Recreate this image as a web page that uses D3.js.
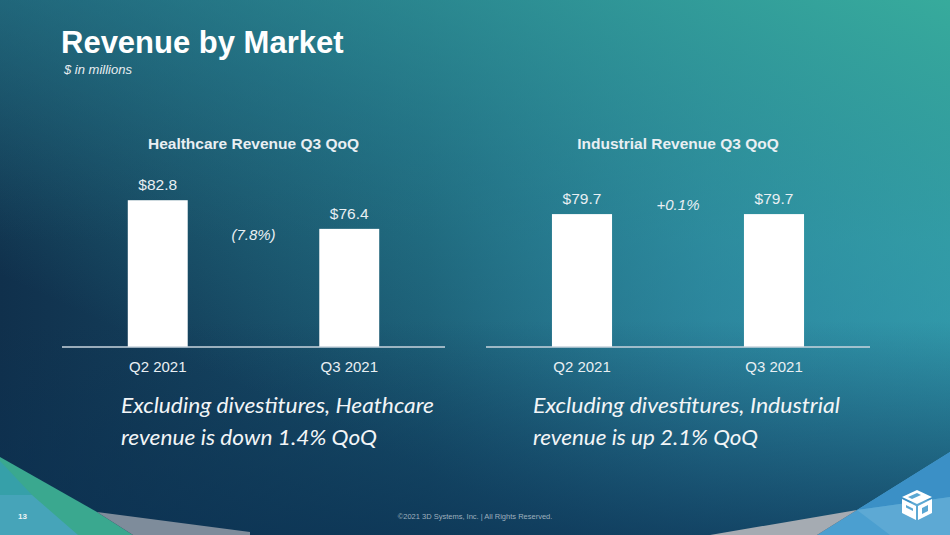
<!DOCTYPE html>
<html>
<head>
<meta charset="utf-8">
<script src="https://cdn.jsdelivr.net/npm/d3@7/dist/d3.min.js"></script>
<style>
  html, body { margin: 0; padding: 0; background: #123a5a; }
  svg { display: block; }
</style>
</head>
<body>
<svg id="chart" width="950" height="535"></svg>
<script>
// ---------- DATA ----------
const categories = ["Q2 2021", "Q3 2021"];
const healthcareValues = [82.8, 76.4];
const industrialValues = [79.7, 79.7];
const valueLabels = [["$82.8", "$76.4"], ["$79.7", "$79.7"]];
const changeLabels = ["(7.8%)", "+0.1%"];
const chartTitles = ["Healthcare Revenue Q3 QoQ", "Industrial Revenue Q3 QoQ"];
const noteLines = [
  ["Excluding divestitures, Heathcare", "revenue is down 1.4% QoQ"],
  ["Excluding divestitures, Industrial", "revenue is up 2.1% QoQ"]
];
const pageTitle = "Revenue by Market";
const pageSubtitle = "$ in millions";
const footerText = "©2021 3D Systems, Inc. | All Rights Reserved.";
const pageNumber = "13";

// ---------- LAYOUT ----------
const W = 950, H = 535;
const svg = d3.select("#chart");
const defs = svg.append("defs");

function lin(id, x1, y1, x2, y2, stops) {
  const g = defs.append("linearGradient").attr("id", id)
    .attr("x1", x1).attr("y1", y1).attr("x2", x2).attr("y2", y2);
  stops.forEach(s => g.append("stop").attr("offset", s[0]).attr("stop-color", s[1]).attr("stop-opacity", s[2] == null ? 1 : s[2]));
}
lin("bgH", 0, 0.5, 1, 0.5, [[0, "#10304c"], [0.45, "#19536f"], [0.75, "#2a7a9c"], [1, "#3292b4"]]);
lin("bgTeal", 1, 0, 0.35, 0.8, [[0, "#37ab9c", 1], [0.55, "#2f9aa0", 0.45], [1, "#2f9aa0", 0]]);
lin("bgTop", 0, 0, 0, 1, [[0, "#1d5674", 0.55], [0.45, "#1d5674", 0]]);
lin("bgBottom", 0, 0.6, 0, 1, [[0, "#0b3152", 0], [1, "#0b3152", 0.75]]);

svg.append("rect").attr("width", W).attr("height", H).attr("fill", "url(#bgH)");
svg.append("rect").attr("width", W).attr("height", H).attr("fill", "url(#bgTop)");
svg.append("rect").attr("width", W).attr("height", H).attr("fill", "url(#bgTeal)");
svg.append("rect").attr("width", W).attr("height", H).attr("fill", "url(#bgBottom)");

// decorative corner shapes
const deco = [
  { pts: [[0,457],[97,512],[133,535],[0,535]], fill: "#3aa88f" },
  { pts: [[0,461],[32,495],[0,495]], fill: "#36a0a9" },
  { pts: [[0,495],[32,495],[78,535],[0,535]], fill: "#46a4b9" },
  { pts: [[97,512],[250,532],[250,535],[133,535]], fill: "#7e8c9b" },
  { pts: [[950,452],[857,510],[817,535],[950,535]], fill: "#4b9fd0" },
  { pts: [[950,452],[857,510],[950,497]], fill: "#3b90c6" },
  { pts: [[857,510],[710,535],[817,535]], fill: "#a5abb2" },
  { pts: [[857,510],[950,497],[950,535],[890,535]], fill: "#5da9d4" }
];
svg.append("g").selectAll("path").data(deco).join("path")
  .attr("d", d => "M" + d.pts.map(p => p.join(",")).join("L") + "Z")
  .attr("fill", d => d.fill);

// logo (simplified cube mark)
const logo = svg.append("g").attr("transform", "translate(917,504)");
logo.append("path").attr("d", "M0,-14 L15,-7 L0,0 L-15,-7 Z").attr("fill", "#ffffff");
logo.append("path").attr("d", "M-15,-5 L-1,2 L-1,16 L-15,9 Z").attr("fill", "#ffffff");
logo.append("path").attr("d", "M1,2 L15,-5 L15,9 L1,16 Z").attr("fill", "#ffffff");
logo.append("path").attr("d", "M-9,-7 L0,-11 L4,-9 L-5,-5 Z M-11,1 L-4,4.5 L-4,7 L-11,3.5 Z M5,4 L11,1 L11,7 L5,10 Z").attr("fill", "#5aa7d3");

// page title
svg.append("text").attr("x", 61).attr("y", 53)
  .attr("font-family", "Liberation Sans, Arial, sans-serif").attr("font-weight", "bold")
  .attr("font-size", 31).attr("fill", "#ffffff").text(pageTitle);
svg.append("text").attr("x", 64).attr("y", 74)
  .attr("font-family", "Liberation Sans, Arial, sans-serif").attr("font-style", "italic")
  .attr("font-size", 13).attr("fill", "#e8eef2").text(pageSubtitle);

// ---------- CHARTS ----------
const panels = [
  { values: healthcareValues, x0: 62, x1: 445, noteX: 121, changeDy: 7, changeRef: 1 },
  { values: industrialValues, x0: 486, x1: 870, noteX: 533, changeDy: -8, changeRef: 1 }
];
const y = d3.scaleLinear().domain([50, 90]).range([347, 168]);
const baseY = y(50);
const font = "Liberation Sans, Arial, sans-serif";
const txt = "#e9eff3";

panels.forEach((p, i) => {
  const x = d3.scaleBand().domain(categories).range([p.x0, p.x1])
    .paddingInner(0.687).paddingOuter(0.3435);
  const g = svg.append("g");

  g.append("text").attr("x", (p.x0 + p.x1) / 2).attr("y", 149)
    .attr("text-anchor", "middle").attr("font-family", font).attr("font-weight", "bold")
    .attr("font-size", 15.5).attr("fill", txt).text(chartTitles[i]);

  g.selectAll("rect.bar").data(p.values).join("rect").attr("class", "bar")
    .attr("x", (d, j) => x(categories[j])).attr("width", x.bandwidth())
    .attr("y", d => y(d)).attr("height", d => baseY - y(d)).attr("fill", "#ffffff");

  g.selectAll("text.val").data(p.values).join("text").attr("class", "val")
    .attr("x", (d, j) => x(categories[j]) + x.bandwidth() / 2)
    .attr("y", d => y(d) - 10).attr("text-anchor", "middle")
    .attr("font-family", font).attr("font-size", 15.5).attr("fill", txt)
    .text((d, j) => valueLabels[i][j]);

  // axis
  const axis = d3.axisBottom(x).tickSize(0).tickPadding(14);
  const ag = g.append("g").attr("transform", `translate(0,${baseY})`).call(axis);
  ag.select(".domain").attr("stroke", "#c9d5de").attr("stroke-width", 1.5)
    .attr("d", `M${p.x0},0H${p.x1}`);
  ag.selectAll(".tick text").attr("font-family", font).attr("font-size", 15)
    .attr("fill", txt).attr("dy", "0.71em");

  // change annotation
  const cx = (x(categories[0]) + x(categories[1]) + x.bandwidth()) / 2;
  g.append("text").attr("x", cx).attr("y", y(p.values[p.changeRef]) + p.changeDy)
    .attr("dominant-baseline", "middle").attr("text-anchor", "middle")
    .attr("font-family", font).attr("font-style", "italic").attr("font-size", 15)
    .attr("fill", txt).text(changeLabels[i]);

  // note
  const noteWidths = [[313, 256], [307, 225]];
  noteLines[i].forEach((line, k) => {
    g.append("text").attr("x", p.noteX).attr("y", 413 + k * 32)
      .attr("font-family", "Lato, 'Open Sans', sans-serif").attr("font-style", "italic")
      .attr("font-size", 21.5).attr("fill", "#f2f5f7")
      .attr("textLength", noteWidths[i][k]).attr("lengthAdjust", "spacingAndGlyphs")
      .text(line);
  });
});

// footer
svg.append("text").attr("x", 475).attr("y", 519).attr("text-anchor", "middle")
  .attr("font-family", font).attr("font-size", 7.5).attr("fill", "#9fb0be").text(footerText);
svg.append("text").attr("x", 18).attr("y", 519)
  .attr("font-family", font).attr("font-weight", "bold").attr("font-size", 8)
  .attr("fill", "#f0f4f6").text(pageNumber);
</script>
</body>
</html>
